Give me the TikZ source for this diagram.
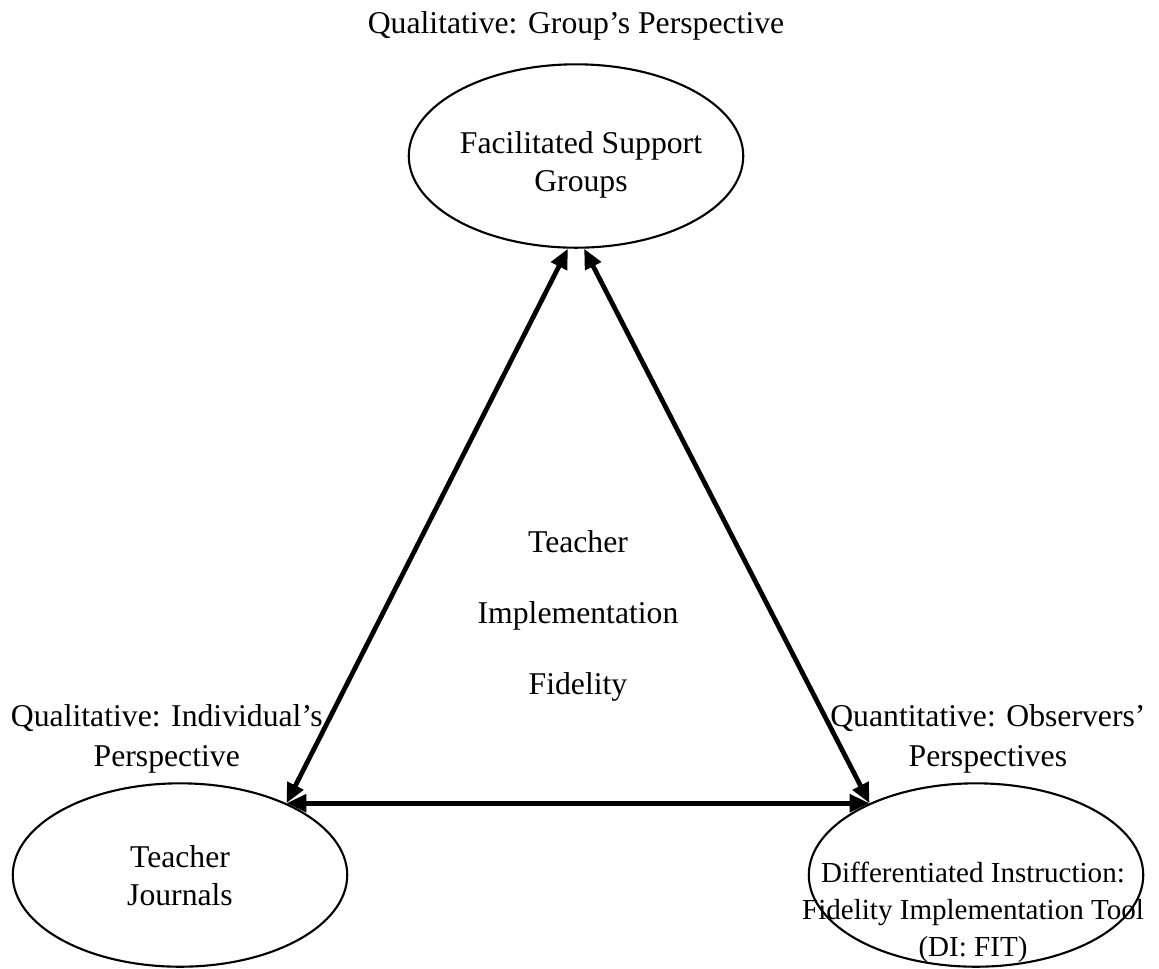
\documentclass[tikz,border=0pt]{standalone}
\usepackage{fontspec}
\setmainfont{Liberation Serif}
\usetikzlibrary{shapes,arrows.meta,positioning}

\begin{document}
\begin{tikzpicture}[x=0.01331cm, y=-0.01331cm, font=\fontsize{12}{14.4}\selectfont,
        oval/.style={ellipse, draw, line width=0.8pt, minimum width=4.45cm, minimum height=2.44cm, inner sep=0pt},
        inside/.style={align=center, inner sep=0pt},
        side/.style={align=center, font=\fontsize{12}{15}\selectfont},
        link/.style={<->, line width=1.8pt, >={Triangle[length=7.5pt, width=6.5pt]}}]
        \useasboundingbox (0,0) rectangle (1159,968);

        \node[oval] (groups) at (576,156) {};
        \node[oval] (journals) at (180,875) {};
        \node[oval] (difit) at (976,875) {};

        \node[inside] (groupstext) at (581,165) {Facilitated Support\\Groups};
        \node[inside] (journalstext) at (180,876) {Teacher\\Journals};
        \node[inside, font=\fontsize{11}{14}\selectfont] (difittext) at (973,912) {Differentiated Instruction:\\Fidelity Implementation Tool\\(DI: FIT)};

        \node[above=5pt of groups] (grouplabel) {Qualitative: Group's Perspective};
        \node[side, above=0pt of journals, xshift=-5pt] (journallabel) {Qualitative: Individual's\\Perspective};
        \node[side, above=0pt of difit, xshift=4.5pt] (difitlabel) {Quantitative: Observers'\\Perspectives};

        \node[align=center, font=\fontsize{12}{27}\selectfont] (fidelity) at (578,616) {Teacher\\Implementation\\Fidelity};

        \draw[link] (journals.34) -- (groups.265);
        \draw[link] (groups.275) -- (difit.146);
        \draw[link] (journals.34) -- (difit.146);
    \end{tikzpicture}
\end{document}
